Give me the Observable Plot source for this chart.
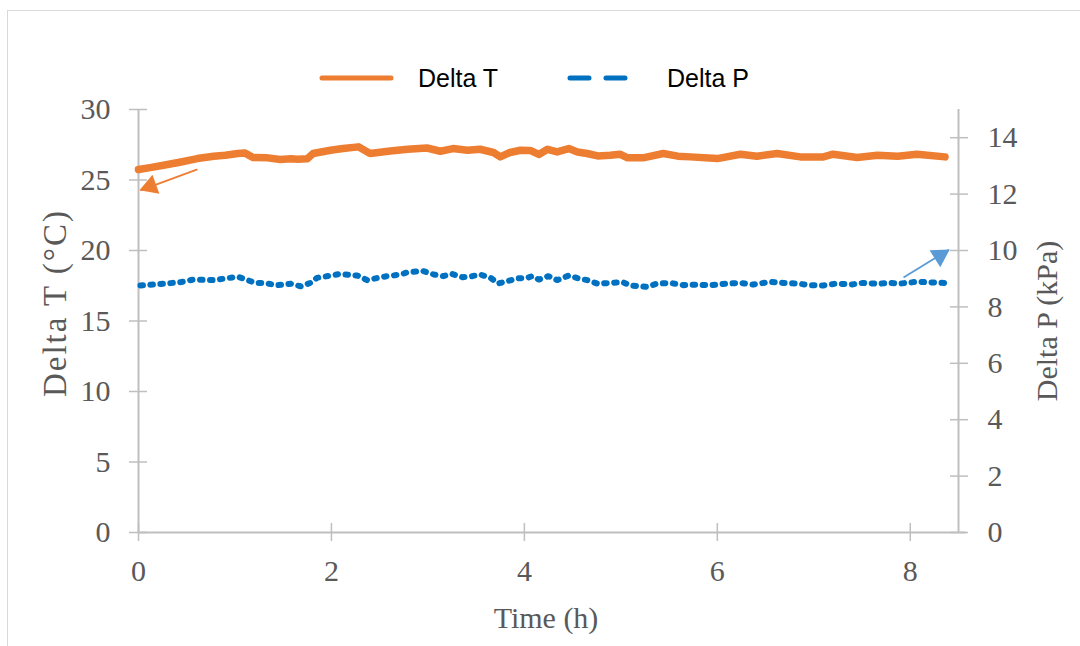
<!DOCTYPE html>
<html>
<head>
<meta charset="utf-8">
<script src="https://cdn.jsdelivr.net/npm/d3@7"></script>
<script src="https://cdn.jsdelivr.net/npm/@observablehq/plot@0.6"></script>
<style>
  html, body { margin: 0; padding: 0; background: #fff; }
  #wrap { position: relative; width: 1080px; height: 646px; overflow: hidden; background: #fff; }
  #border { position: absolute; left: 7px; top: 10px; width: 1100px; height: 700px; border: 1.5px solid #d9d9d9; box-sizing: border-box; }
  #chart { position: absolute; left: 0; top: 0; }
  .ttl { position: absolute; font-family: "Liberation Serif", "Times New Roman", serif; font-size: 30px; color: #595959; white-space: nowrap; line-height: 1; }
  #legend { position: absolute; left: 0; top: 0; width: 1080px; height: 110px; }
  .lg { position: absolute; font-family: "Liberation Sans", Arial, sans-serif; font-size: 25px; color: #000; line-height: 1; white-space: nowrap; }
</style>
</head>
<body>
<div id="wrap">
  <div id="border"></div>
  <div id="chart"></div>
  <div id="legend">
    <svg width="1080" height="110" style="position:absolute;left:0;top:0">
      <line x1="322" y1="78" x2="391" y2="78" stroke="#ED7D31" stroke-width="5" stroke-linecap="round"/>
      <line x1="570" y1="78" x2="625" y2="78" stroke="#0070C0" stroke-width="5" stroke-linecap="round" stroke-dasharray="19,17"/>
    </svg>
    <div class="lg" style="left:418px; top:66px;">Delta T</div>
    <div class="lg" style="left:667px; top:66px;">Delta P</div>
  </div>
  <div class="ttl" id="xt" style="left:546px; top:618px; transform: translate(-50%, -50%);">Time (h)</div>
  <div class="ttl" id="ylt" style="left:55px; top:303px; font-size:33px; letter-spacing:2px; transform: translate(-50%, -50%) rotate(-90deg);">Delta T (°C)</div>
  <div class="ttl" id="yrt" style="left:1047px; top:321px; transform: translate(-50%, -50%) rotate(-90deg);">Delta P (kPa)</div>
</div>
<script>
// ---- data ----
const timeT = [0.00,0.12,0.26,0.44,0.61,0.78,0.90,1.03,1.10,1.19,1.34,1.47,1.58,1.65,1.75,1.81,1.99,2.12,2.28,2.40,2.61,2.79,2.99,3.13,3.26,3.41,3.54,3.68,3.75,3.85,3.96,4.06,4.15,4.24,4.34,4.46,4.55,4.65,4.76,4.89,4.99,5.07,5.23,5.44,5.59,5.72,6.00,6.24,6.41,6.62,6.86,7.10,7.20,7.45,7.66,7.87,8.07,8.36];
const deltaT = [25.74,25.88,26.05,26.28,26.52,26.69,26.75,26.88,26.92,26.59,26.57,26.45,26.50,26.47,26.50,26.88,27.11,27.23,27.35,26.88,27.06,27.18,27.27,27.04,27.23,27.11,27.18,26.95,26.64,26.95,27.11,27.10,26.81,27.18,26.99,27.23,26.99,26.88,26.71,26.76,26.83,26.57,26.57,26.88,26.69,26.64,26.52,26.83,26.69,26.88,26.64,26.64,26.83,26.59,26.76,26.69,26.83,26.64];

const timeP = [0.02,0.26,0.44,0.57,0.78,1.03,1.13,1.21,1.30,1.44,1.58,1.68,1.78,1.85,1.99,2.09,2.27,2.37,2.54,2.72,2.79,2.95,3.06,3.16,3.25,3.36,3.46,3.54,3.65,3.73,3.82,3.93,4.03,4.08,4.15,4.25,4.34,4.46,4.56,4.65,4.76,4.89,5.02,5.10,5.27,5.38,5.51,5.65,5.72,5.93,6.10,6.24,6.37,6.55,6.68,6.83,6.96,7.10,7.24,7.38,7.51,7.66,7.79,7.90,8.07,8.21,8.36];
const deltaP = [8.76,8.82,8.88,8.97,8.95,9.07,8.95,8.85,8.85,8.77,8.82,8.73,8.85,9.03,9.11,9.17,9.11,8.95,9.07,9.15,9.23,9.27,9.15,9.09,9.17,9.05,9.09,9.15,9.03,8.83,8.91,9.01,9.03,9.09,8.97,9.09,8.95,9.11,9.01,8.95,8.82,8.85,8.88,8.76,8.71,8.83,8.85,8.77,8.79,8.77,8.83,8.85,8.79,8.89,8.85,8.83,8.77,8.76,8.83,8.79,8.85,8.82,8.85,8.83,8.89,8.87,8.85];

const xTicks = [0, 2, 4, 6, 8];
const tTicks = [0, 5, 10, 15, 20, 25, 30];
const pTicks = [0, 2, 4, 6, 8, 10, 12, 14];

// annotation arrows: [x1, y1, x2, y2] (y in own units)
const arrowT = {x1: 0.61, y1: 25.76, x2: 0.02, y2: 24.27};
const arrowP = {x1: 7.93, y1: 9.04, x2: 8.40, y2: 10.03};

const xMax = 8.5, tMax = 30, pMax = 15;
const k = tMax / pMax; // map kPa onto the left (°C) scale

const rowsT = timeT.map((t, i) => ({t, v: deltaT[i]}));
const rowsP = timeP.map((t, i) => ({t, v: deltaP[i] * k}));

const axisGray = "#bfbfbf";
const labelFont = {fontSize: 30, fontFamily: "Liberation Serif, Times New Roman, serif", fill: "#595959"};

const chart = Plot.plot({
  width: 1080,
  height: 646,
  marginTop: 109,
  marginBottom: 114,
  marginLeft: 138,
  marginRight: 122,
  style: {background: "transparent", overflow: "visible"},
  x: {domain: [0, xMax], axis: null},
  y: {domain: [0, tMax], axis: null},
  marks: [
    // axis lines
    Plot.ruleY([0], {x1: 0, x2: 8.58, stroke: axisGray, strokeWidth: 2}),
    Plot.ruleX([0], {y1: 0, y2: tMax, stroke: axisGray, strokeWidth: 2}),
    Plot.ruleX([xMax], {y1: 0, y2: tMax, stroke: axisGray, strokeWidth: 2}),
    // crossing ticks
    Plot.axisX({anchor: "bottom", ticks: xTicks, tickSize: 18, dy: -9, tickFormat: () => "", stroke: axisGray, strokeWidth: 1.5, label: null}),
    Plot.axisY({anchor: "left", ticks: tTicks, tickSize: 18, dx: 9, tickFormat: () => "", stroke: axisGray, strokeWidth: 1.5, label: null}),
    Plot.axisY({anchor: "right", ticks: pTicks.map(p => p * k), tickSize: 18, dx: -9, tickFormat: () => "", stroke: axisGray, strokeWidth: 1.5, label: null}),
    // tick labels
    Plot.axisX({anchor: "bottom", ticks: xTicks, tickSize: 0, tickPadding: 27, label: null, ...labelFont}),
    Plot.axisY({anchor: "left", ticks: tTicks, tickSize: 0, tickPadding: 28, label: null, ...labelFont}),
    Plot.axisY({anchor: "right", ticks: pTicks.map(p => p * k), tickSize: 0, tickPadding: 29, tickFormat: d => d / k, label: null, ...labelFont}),
    // series
    Plot.line(rowsT, {x: "t", y: "v", stroke: "#ED7D31", strokeWidth: 7.5, strokeLinejoin: "round", strokeLinecap: "round"}),
    Plot.line(rowsP, {x: "t", y: "v", stroke: "#0070C0", strokeWidth: 6, strokeDasharray: "2.5,7.5", strokeLinecap: "round", strokeLinejoin: "round"}),
    // annotation arrows
    Plot.link([arrowT], {x1: "x1", y1: "y1", x2: "x2", y2: "y2", stroke: "#ED7D31", strokeWidth: 1.8}),
    Plot.dot([arrowT], {x: "x2", y: "y2", symbol: "triangle", r: 7.5, rotate: -110, dx: 10, dy: -4, fill: "#ED7D31", stroke: "none"}),
    Plot.link([arrowP], {x1: "x1", y1: d => d.y1 * k, x2: "x2", y2: d => d.y2 * k, stroke: "#5B9BD5", strokeWidth: 1.8}),
    Plot.dot([arrowP], {x: "x2", y: d => d.y2 * k, symbol: "triangle", r: 7.5, rotate: 58, dx: -9, dy: 6, fill: "#5B9BD5", stroke: "none"})
  ]
});
document.getElementById("chart").appendChild(chart);
</script>
</body>
</html>
